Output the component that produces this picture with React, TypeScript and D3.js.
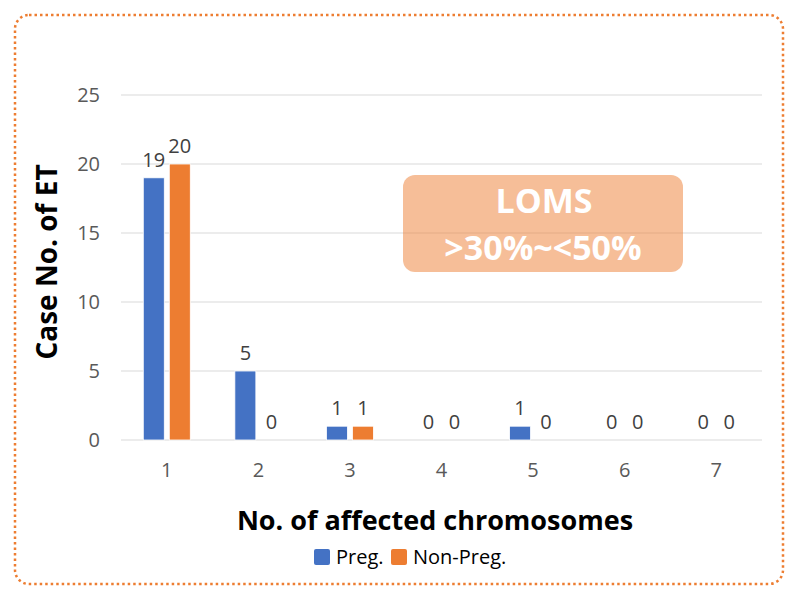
import { useEffect, useRef } from 'react'
import * as d3 from 'd3'

const categories = ['1', '2', '3', '4', '5', '6', '7']
const preg = [19, 5, 1, 0, 1, 0, 0]
const nonPreg = [20, 0, 1, 0, 0, 0, 0]
const yTicks = [0, 5, 10, 15, 20, 25]
const seriesNames = ['Preg.', 'Non-Preg.']
const seriesColors = ['#4472C4', '#ED7D31']

const W = 797
const H = 596
const FONT = '"Open Sans", "Noto Sans", sans-serif'

export default function App() {
  const ref = useRef<SVGSVGElement>(null)

  useEffect(() => {
    if (!ref.current) return
    const svg = d3.select(ref.current)
    svg.selectAll('*').remove()

    // frame
    svg.append('rect')
      .attr('x', 15).attr('y', 15).attr('width', 768).attr('height', 569)
      .attr('rx', 14)
      .attr('fill', '#fff').attr('stroke', '#ED7D31').attr('stroke-width', 2.5)
      .attr('stroke-dasharray', '2.5 3')

    const x = d3.scaleBand().domain(categories).range([121, 762])
    const y = d3.scaleLinear().domain([0, 25]).range([440, 95])

    // grid
    svg.append('g').selectAll('line').data(yTicks).join('line')
      .attr('x1', 121).attr('x2', 762)
      .attr('y1', d => y(d)).attr('y2', d => y(d))
      .attr('stroke', '#d9d9d9').attr('stroke-width', 1)

    svg.append('g').selectAll('text').data(yTicks).join('text')
      .attr('x', 100).attr('y', d => y(d) + 7)
      .attr('text-anchor', 'end')
      .attr('font-family', FONT).attr('font-size', 20).attr('fill', '#595959')
      .text(d => d)

    svg.append('g').selectAll('text').data(categories).join('text')
      .attr('x', d => (x(d) as number) + x.bandwidth() / 2).attr('y', 477)
      .attr('text-anchor', 'middle')
      .attr('font-family', FONT).attr('font-size', 20).attr('fill', '#595959')
      .text(d => d)

    const barW = 21
    const gap = 5
    const series = [preg, nonPreg]
    series.forEach((vals, si) => {
      const off = si === 0 ? -gap / 2 - barW : gap / 2
      const g = svg.append('g')
      g.selectAll('rect').data(vals).join('rect')
        .attr('x', (_, i) => (x(categories[i]) as number) + x.bandwidth() / 2 + off)
        .attr('y', d => y(d))
        .attr('width', barW)
        .attr('height', d => y(0) - y(d))
        .attr('fill', seriesColors[si])
        .attr('stroke', '#fff').attr('stroke-width', 0.8)
      g.selectAll('text').data(vals).join('text')
        .attr('x', (_, i) => (x(categories[i]) as number) + x.bandwidth() / 2 + off + barW / 2)
        .attr('y', d => y(d) - 11)
        .attr('text-anchor', 'middle')
        .attr('font-family', FONT).attr('font-size', 20).attr('fill', '#404040')
        .text(d => d)
    })

    // annotation box
    svg.append('rect')
      .attr('x', 403).attr('y', 175).attr('width', 280).attr('height', 97)
      .attr('rx', 12)
      .attr('fill', '#ED7D31').attr('fill-opacity', 0.5)
    svg.append('text')
      .attr('x', 544).attr('y', 213)
      .attr('text-anchor', 'middle')
      .attr('font-family', FONT).attr('font-size', 34).attr('font-weight', 'bold').attr('fill', '#fff')
      .text('LOMS')
    svg.append('text')
      .attr('x', 543).attr('y', 260)
      .attr('text-anchor', 'middle')
      .attr('font-family', FONT).attr('font-size', 34).attr('font-weight', 'bold').attr('fill', '#fff')
      .text('>30%~<50%')

    // axis titles
    svg.append('text')
      .attr('x', 435).attr('y', 530)
      .attr('text-anchor', 'middle')
      .attr('font-family', FONT).attr('font-size', 27).attr('font-weight', 'bold').attr('fill', '#000')
      .text('No. of affected chromosomes')
    svg.append('text')
      .attr('transform', 'translate(57,262) rotate(-90)')
      .attr('text-anchor', 'middle')
      .attr('font-family', FONT).attr('font-size', 28).attr('font-weight', 'bold').attr('fill', '#000')
      .text('Case No. of ET')

    // legend
    const legX = [314, 391]
    seriesNames.forEach((name, i) => {
      svg.append('rect')
        .attr('x', legX[i]).attr('y', 549).attr('width', 16).attr('height', 16)
        .attr('rx', 2).attr('fill', seriesColors[i])
      svg.append('text')
        .attr('x', legX[i] + 22).attr('y', 564)
        .attr('font-family', FONT).attr('font-size', 20).attr('fill', '#000')
        .text(name)
    })
  }, [])

  return <svg ref={ref} width={W} height={H} style={{ display: 'block', margin: -8 }} />
}
